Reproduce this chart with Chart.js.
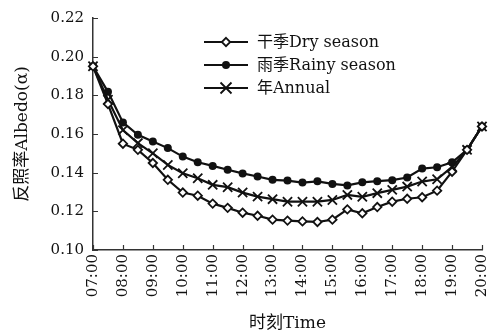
<!DOCTYPE html>
<html>
<head>
<meta charset="utf-8">
<script src="https://cdn.jsdelivr.net/npm/chart.js@4/dist/chart.umd.min.js"></script>
<style>
html,body{margin:0;padding:0;background:#fff;}
#wrap{width:504px;height:334px;position:relative;}
</style>
</head>
<body>
<div id="wrap"><canvas id="c" width="504" height="334"></canvas></div>
<script>
const times = ["07:00","07:30","08:00","08:30","09:00","09:30","10:00","10:30","11:00","11:30","12:00","12:30","13:00","13:30","14:00","14:30","15:00","15:30","16:00","16:30","17:00","17:30","18:00","18:30","19:00","19:30","20:00"];
const drySeason = [0.195,0.1755,0.155,0.1518,0.145,0.1363,0.1297,0.1281,0.124,0.1218,0.1193,0.1177,0.1157,0.1152,0.1148,0.1145,0.1157,0.121,0.119,0.1222,0.125,0.1265,0.1273,0.1307,0.1405,0.1518,0.1639];
const rainySeason = [0.195,0.1818,0.166,0.1596,0.1561,0.1527,0.1483,0.1454,0.1435,0.1415,0.1396,0.138,0.1363,0.1359,0.1349,0.1355,0.1342,0.1334,0.135,0.1356,0.1361,0.1375,0.1421,0.1428,0.1454,0.1518,0.1639];
const annual = [0.195,0.1777,0.162,0.1553,0.150,0.144,0.1397,0.1371,0.1337,0.1325,0.1297,0.1276,0.1263,0.125,0.125,0.125,0.1259,0.1285,0.1275,0.1294,0.1311,0.1328,0.1354,0.1366,0.143,0.1518,0.1639];
const seriesNames = ["干季Dry season","雨季Rainy season","年Annual"];
const yTicks = [0.10,0.12,0.14,0.16,0.18,0.20,0.22];
const xTitle = "时刻Time";
const yTitle = "反照率Albedo(α)";

const FONT = "'DejaVu Serif','Noto Sans CJK SC',serif";
const INK = '#111';

const tickPlugin = {
  id: 'inwardTicks',
  afterDraw(chart) {
    const ctx = chart.ctx;
    const xs = chart.scales.x, ys = chart.scales.y;
    const a = chart.chartArea;
    ctx.save();
    ctx.strokeStyle = '#333';
    ctx.lineWidth = 1.2;
    ctx.beginPath();
    yTicks.forEach(v => {
      const y = Math.round(ys.getPixelForValue(v)) + 0.5;
      ctx.moveTo(a.left, y); ctx.lineTo(a.left + 5, y);
    });
    times.forEach((t, i) => {
      if (t.endsWith(':00')) {
        const x = Math.round(xs.getPixelForValue(i)) + 0.5;
        ctx.moveTo(x, a.bottom); ctx.lineTo(x, a.bottom - 5);
      }
    });
    ctx.stroke();
    ctx.restore();
  }
};

function drawMarker(ctx, style, x, y) {
  ctx.save();
  ctx.strokeStyle = INK; ctx.lineWidth = 1.8;
  if (style === 'rectRot') {
    const r = 4.2;
    ctx.fillStyle = '#fff';
    ctx.beginPath();
    ctx.moveTo(x, y - r); ctx.lineTo(x + r, y); ctx.lineTo(x, y + r); ctx.lineTo(x - r, y); ctx.closePath();
    ctx.fill(); ctx.stroke();
  } else if (style === 'circle') {
    ctx.fillStyle = INK;
    ctx.beginPath(); ctx.arc(x, y, 4, 0, Math.PI * 2); ctx.fill();
  } else {
    const r = 5.5;
    ctx.beginPath();
    ctx.moveTo(x - r, y - r); ctx.lineTo(x + r, y + r);
    ctx.moveTo(x + r, y - r); ctx.lineTo(x - r, y + r);
    ctx.stroke();
  }
  ctx.restore();
}

const legendPlugin = {
  id: 'customLegend',
  afterDraw(chart) {
    const ctx = chart.ctx;
    const x0 = 204, x1 = 248, ty = [42, 65, 88];
    chart.data.datasets.forEach((ds, i) => {
      const y = ty[i];
      ctx.save();
      ctx.strokeStyle = INK; ctx.lineWidth = 2.2;
      ctx.beginPath(); ctx.moveTo(x0, y); ctx.lineTo(x1, y); ctx.stroke();
      ctx.restore();
      drawMarker(ctx, ds.pointStyle, (x0 + x1) / 2, y);
      ctx.save();
      ctx.fillStyle = INK;
      ctx.font = "16px " + FONT;
      ctx.textBaseline = 'middle';
      ctx.fillText(ds.label, 257, y + 1);
      ctx.restore();
    });
  }
};

const styles = [
  {pointStyle:'rectRot', pointRadius:4.2, pointBackgroundColor:'#fff', pointBorderWidth:1.8},
  {pointStyle:'circle', pointRadius:4, pointBackgroundColor:INK, pointBorderWidth:0},
  {pointStyle:'crossRot', pointRadius:6.5, pointBackgroundColor:INK, pointBorderWidth:1.8}
];
const values = [drySeason, rainySeason, annual];

new Chart(document.getElementById('c'), {
  type: 'line',
  data: {
    labels: times,
    datasets: values.map((arr, i) => Object.assign({
      label: seriesNames[i],
      data: arr,
      borderColor: INK,
      borderWidth: 2.2,
      pointBorderColor: INK,
      tension: 0,
      fill: false
    }, styles[i]))
  },
  options: {
    responsive: false,
    animation: false,
    events: [],
    layout: {padding: {left: 0, right: 11, top: 18, bottom: 0}},
    plugins: {legend: {display: false}, tooltip: {enabled: false}},
    scales: {
      x: {
        type: 'category',
        offset: false,
        grid: {display: false, drawTicks: false},
        border: {display: true, color: '#333', width: 1.5},
        ticks: {
          autoSkip: false, maxRotation: 90, minRotation: 90, padding: 4,
          color: INK, font: {family: FONT, size: 15},
          callback: function(v, i) { const t = times[i]; return t.endsWith(':00') ? t : ''; }
        },
        title: {display: true, text: xTitle, color: INK, font: {family: FONT, size: 17}, padding: {top: 1, bottom: 0}},
        afterFit(s) { s.height = 84; }
      },
      y: {
        min: 0.10, max: 0.22,
        grid: {display: false, drawTicks: false},
        border: {display: true, color: '#333', width: 1.5},
        afterBuildTicks(s) { s.ticks = yTicks.map(v => ({value: v})); },
        ticks: {
          padding: 9, color: INK, font: {family: FONT, size: 15},
          callback: v => v.toFixed(2)
        },
        title: {display: true, text: yTitle, color: INK, font: {family: FONT, size: 17}, padding: {top: 12, bottom: 0}},
        afterFit(s) { s.width = 93; }
      }
    }
  },
  plugins: [tickPlugin, legendPlugin]
});
</script>
</body>
</html>
